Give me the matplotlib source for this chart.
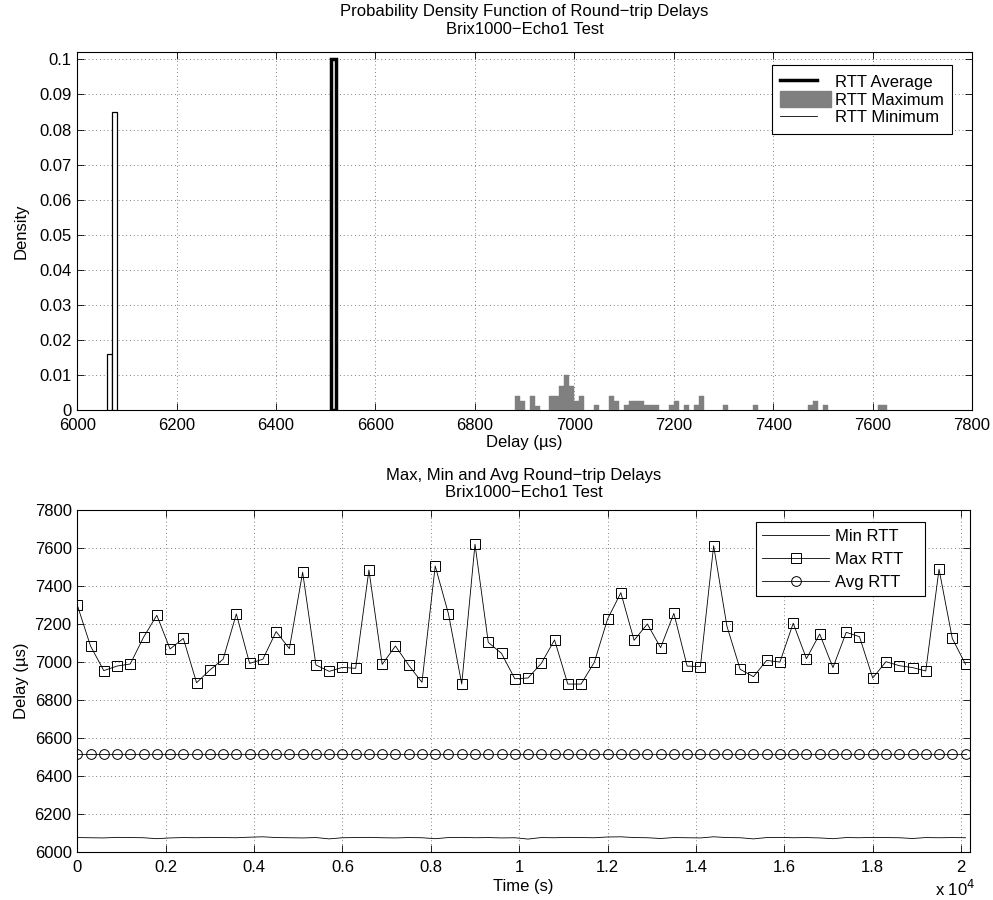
import numpy as np
import matplotlib
matplotlib.use("Agg")
import matplotlib.pyplot as plt
from matplotlib.lines import Line2D
from matplotlib.patches import Patch
from matplotlib.legend_handler import HandlerLine2D

plt.rcParams['font.family'] = ['Liberation Sans', 'DejaVu Sans']
plt.rcParams['font.size'] = 12

# ---------------- data: PDF (top) ----------------
bin_width = 10
min_bins = [6060, 6070]
min_density = [0.016, 0.085]
avg_bins = [6510]
avg_density = [0.1]
max_bins = [6880, 6890, 6910, 6920, 6950, 6960, 6970, 6980, 6990, 7000,
            7010, 7040, 7070, 7080, 7100, 7110, 7120, 7130, 7140, 7150,
            7160, 7190, 7200, 7220, 7240, 7250, 7300, 7360, 7470, 7480,
            7500, 7610, 7620]
max_density = [0.0040, 0.0025, 0.0040, 0.0012, 0.0040, 0.0040, 0.0068, 0.0100, 0.0068, 0.0027,
               0.0040, 0.0013, 0.0040, 0.0025, 0.0013, 0.0027, 0.0027, 0.0027, 0.0013, 0.0013,
               0.0013, 0.0013, 0.0027, 0.0013, 0.0013, 0.0040, 0.0013, 0.0013, 0.0013, 0.0027,
               0.0013, 0.0013, 0.0013]

# ---------------- data: time series (bottom) ----------------
sample_interval = 300  # s
max_rtt = [7301, 7085, 6955, 6979, 6990, 7131, 7247, 7069, 7125, 6891,
           6958, 7015, 7254, 6993, 7015, 7161, 7071, 7474, 6985, 6951,
           6972, 6967, 7486, 6988, 7085, 6983, 6893, 7507, 7254, 6884,
           7622, 7104, 7046, 6912, 6916, 6993, 7117, 6884, 6884, 6999,
           7227, 7366, 7115, 7201, 7076, 7257, 6979, 6976, 7614, 7190,
           6962, 6923, 7009, 7000, 7205, 7018, 7148, 6971, 7157, 7134,
           6916, 7002, 6981, 6971, 6953, 7490, 7125, 6988]
avg_rtt = [6515, 6515, 6515, 6515, 6515, 6515, 6515, 6515, 6515, 6515,
           6515, 6515, 6515, 6515, 6515, 6515, 6515, 6515, 6515, 6515,
           6515, 6515, 6515, 6515, 6515, 6515, 6515, 6515, 6515, 6515,
           6515, 6515, 6515, 6515, 6515, 6515, 6515, 6515, 6515, 6515,
           6515, 6515, 6515, 6515, 6515, 6515, 6515, 6515, 6515, 6515,
           6515, 6515, 6515, 6515, 6515, 6515, 6515, 6515, 6515, 6515,
           6515, 6515, 6515, 6515, 6515, 6515, 6515, 6515]
min_rtt = [6074, 6073, 6072, 6075, 6074, 6073, 6068, 6072, 6074, 6073,
           6075, 6074, 6073, 6076, 6078, 6074, 6073, 6072, 6074, 6067,
           6073, 6074, 6075, 6073, 6072, 6074, 6073, 6068, 6074, 6075,
           6073, 6074, 6072, 6073, 6066, 6074, 6073, 6075, 6074, 6073,
           6077, 6078, 6074, 6073, 6069, 6074, 6073, 6072, 6078, 6074,
           6073, 6067, 6074, 6075, 6073, 6074, 6072, 6068, 6074, 6073,
           6075, 6074, 6073, 6069, 6074, 6073, 6074, 6073]
time_s = np.arange(len(max_rtt)) * sample_interval

top_xticks = [6000, 6200, 6400, 6600, 6800, 7000, 7200, 7400, 7600, 7800]
top_yticks = [0, 0.01, 0.02, 0.03, 0.04, 0.05, 0.06, 0.07, 0.08, 0.09, 0.1]
top_yticklabels = ['0', '0.01', '0.02', '0.03', '0.04', '0.05', '0.06', '0.07', '0.08', '0.09', '0.1']
bot_yticks = [6000, 6200, 6400, 6600, 6800, 7000, 7200, 7400, 7600, 7800]
bot_xticks = [0, 2000, 4000, 6000, 8000, 10000, 12000, 14000, 16000, 18000, 20000]
bot_xticklabels = ['0', '0.2', '0.4', '0.6', '0.8', '1', '1.2', '1.4', '1.6', '1.8', '2']

W, H = 993.0, 900.0
FS = 12
fig = plt.figure(figsize=(9.93, 9.0), dpi=100)

grid_kw = dict(color='#555555', linestyle=(0, (1, 3.5)), linewidth=0.6)


class ShortLineHandler(HandlerLine2D):
    """Legend line drawn shorter than the full handle box (MATLAB style)."""
    def create_artists(self, legend, orig_handle, xdescent, ydescent,
                       width, height, fontsize, trans):
        return super().create_artists(legend, orig_handle, xdescent, ydescent,
                                      width * 0.72, height, fontsize, trans)


def style_axes(ax):
    ax.set_axisbelow(True)
    ax.grid(True, **grid_kw)
    ax.tick_params(direction='in', length=5, width=0.6, top=True, right=True,
                   labelsize=FS)
    ax.tick_params(axis='x', pad=6)
    ax.tick_params(axis='y', pad=4)
    for s in ax.spines.values():
        s.set_linewidth(0.8)
        s.set_color('black')

# ---------------- top axes ----------------
ax1 = fig.add_axes([0.0778, 0.5444, 0.901, 0.3974])
ax1.bar(avg_bins, avg_density, width=bin_width, align='edge',
        facecolor='white', edgecolor='black', linewidth=2.5, zorder=3)
ax1.bar(max_bins, max_density, width=bin_width, align='edge',
        facecolor='#808080', edgecolor='#808080', linewidth=0.3, zorder=3)
ax1.bar(min_bins, min_density, width=bin_width, align='edge',
        facecolor='white', edgecolor='black', linewidth=0.9, zorder=3)
ax1.set_xlim(6000, 7800)
ax1.set_ylim(0, 0.102)
ax1.set_xticks(top_xticks)
ax1.set_yticks(top_yticks)
ax1.set_yticklabels(top_yticklabels)
style_axes(ax1)
ax1.set_xlabel('Delay (µs)', labelpad=1, fontsize=FS)
ax1.set_ylabel('Density', labelpad=8, fontsize=FS)
ax1.set_title('Probability Density Function of Round\u2212trip Delays\nBrix1000\u2212Echo1 Test',
              fontsize=FS, pad=13.5, linespacing=1.2)
h_avg = Line2D([], [], color='black', linewidth=2.5)
h_max = Patch(facecolor='#808080', edgecolor='#808080')
h_min = Line2D([], [], color='black', linewidth=0.6)
leg1 = ax1.legend([h_avg, h_max, h_min], ['RTT Average', 'RTT Maximum', 'RTT Minimum'],
                  handler_map={h_avg: ShortLineHandler(), h_min: ShortLineHandler()},
                  loc='center', mode='expand',
                  bbox_to_anchor=(771.7 / W, 1 - 138.3 / H, 180.6 / W, 77.6 / H),
                  bbox_transform=fig.transFigure, fancybox=False, framealpha=1,
                  edgecolor='black', handlelength=3.05, handleheight=1.06,
                  handletextpad=0.25, borderpad=0.5, borderaxespad=0,
                  labelspacing=0.07, fontsize=FS)
leg1.get_frame().set_linewidth(0.8)

# ---------------- bottom axes ----------------
ax2 = fig.add_axes([0.0778, 0.0538, 0.899, 0.379])
ax2.plot(time_s, min_rtt, color='black', linewidth=0.6, label='Min RTT')
ax2.plot(time_s, max_rtt, color='black', linewidth=0.6, marker='s', markersize=6.5,
         markerfacecolor='none', markeredgecolor='black', markeredgewidth=0.7, label='Max RTT')
ax2.plot(time_s, avg_rtt, color='black', linewidth=0.6, marker='o', markersize=7,
         markerfacecolor='none', markeredgecolor='black', markeredgewidth=0.7, label='Avg RTT')
ax2.set_xlim(0, 20200)
ax2.set_ylim(6000, 7800)
ax2.set_xticks(bot_xticks)
ax2.set_xticklabels(bot_xticklabels)
ax2.set_yticks(bot_yticks)
style_axes(ax2)
ax2.set_xlabel('Time (s)', labelpad=3, fontsize=FS)
ax2.set_ylabel('Delay (µs)', labelpad=4, fontsize=FS)
ax2.set_title('Max, Min and Avg Round\u2212trip Delays\nBrix1000\u2212Echo1 Test',
              fontsize=FS, pad=9.5, linespacing=1.2)
ax2.text(0.983, -0.08, r'x 10$^{4}$', transform=ax2.transAxes, ha='center', va='top', fontsize=FS)
leg2 = ax2.legend(loc='center', mode='expand',
                  bbox_to_anchor=(756 / W, 1 - 597.7 / H, 169 / W, 76.7 / H),
                  bbox_transform=fig.transFigure, fancybox=False, framealpha=1,
                  edgecolor='black', handlelength=4.0, handletextpad=0.36,
                  borderpad=0.38, borderaxespad=0, labelspacing=0.49, fontsize=FS)
leg2.get_frame().set_linewidth(0.8)

fig.savefig('out.png', dpi=100)
